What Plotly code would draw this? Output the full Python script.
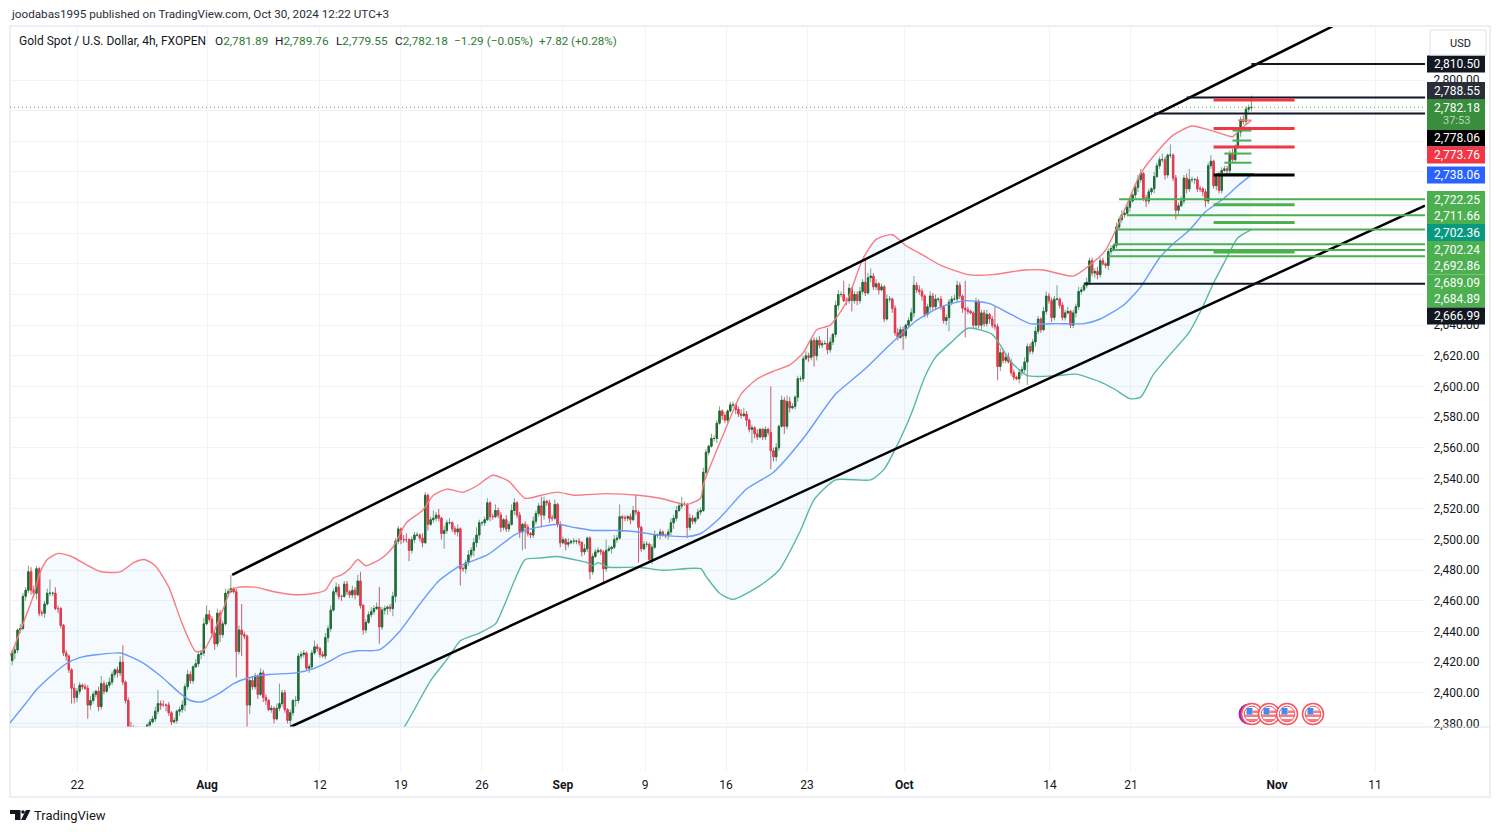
import plotly.graph_objects as go

closes = [
2426,2428,2441,2442,2463,2467,2479,2467,2465,2481,
2452,2452,2458,2465,2465,2465,2455,2455,2444,2426,
2424,2415,2403,2397,2401,2405,2404,2403,2392,2395,
2399,2401,2391,2406,2401,2405,2407,2412,2415,2413,
2420,2407,2395,2378,2372,2376,2372,2368,2372,2376,
2379,2381,2383,2388,2393,2392,2392,2392,2387,2381,
2382,2388,2389,2392,2404,2412,2408,2417,2419,2425,
2426,2445,2451,2448,2439,2432,2452,2438,2445,2465,
2466,2468,2466,2427,2441,2438,2437,2392,2408,2404,
2411,2399,2413,2397,2395,2389,2390,2383,2390,2393,
2400,2389,2382,2387,2395,2395,2424,2425,2426,2416,
2417,2426,2430,2429,2425,2424,2436,2442,2454,2466,
2469,2463,2463,2471,2466,2464,2467,2464,2473,2457,
2441,2446,2451,2453,2455,2456,2443,2454,2455,2456,
2455,2463,2499,2507,2500,2500,2500,2493,2500,2503,
2503,2501,2498,2529,2510,2513,2514,2516,2514,2504,
2506,2511,2511,2507,2505,2507,2481,2481,2485,2490,
2493,2498,2503,2511,2511,2513,2524,2515,2515,2519,
2516,2508,2513,2507,2510,2519,2524,2516,2505,2510,
2508,2504,2503,2512,2517,2522,2516,2525,2524,2514,
2514,2523,2510,2498,2500,2497,2498,2499,2499,2499,
2498,2492,2494,2501,2479,2489,2492,2493,2492,2481,
2493,2494,2495,2500,2501,2515,2514,2514,2515,2513,
2519,2518,2508,2494,2497,2497,2487,2495,2503,2503,
2505,2503,2503,2505,2511,2514,2519,2522,2523,2523,
2508,2514,2512,2514,2518,2519,2544,2557,2561,2566,
2566,2576,2584,2581,2578,2584,2588,2588,2585,2582,
2581,2582,2578,2572,2573,2569,2567,2572,2567,2572,
2570,2558,2554,2560,2574,2591,2574,2590,2586,2587,
2593,2605,2605,2618,2620,2619,2630,2620,2630,2627,
2628,2628,2624,2629,2634,2653,2660,2660,2656,2656,
2664,2656,2660,2656,2662,2668,2661,2671,2672,2665,
2667,2663,2665,2644,2657,2657,2651,2635,2632,2637,
2633,2640,2643,2648,2666,2663,2662,2659,2647,2652,
2659,2652,2657,2657,2652,2643,2645,2655,2657,2657,
2666,2659,2651,2650,2649,2648,2640,2655,2640,2648,
2641,2647,2644,2640,2639,2613,2622,2617,2619,2616,
2609,2606,2605,2609,2611,2616,2626,2623,2629,2636,
2644,2637,2649,2659,2656,2645,2657,2657,2653,2645,
2648,2649,2640,2648,2652,2662,2663,2666,2668,2682,
2674,2675,2673,2682,2680,2679,2688,2690,2692,2704,
2709,2712,2713,2717,2721,2725,2730,2735,2739,2723,
2721,2727,2729,2737,2744,2748,2748,2738,2751,2751,
2736,2715,2718,2721,2736,2729,2735,2735,2735,2729,
2729,2727,2721,2744,2747,2731,2737,2728,2741,2742,
2741,2752,2748,2756,2766,2774,2773,2781,2781.89,2782.18]

wick_up = [
2,3,1,3,2,2,4,3,3,2, 1,2,2,3,9,1,4,2,1,1, 2,1,1,3,2,2,1,2,2,3, 2,1,3,5,2,2,3,2,1,2,
4,11,1,2,3,3,2,1,3,2, 1,2,2,3,9,2,3,1,2,1, 2,1,2,3,2,3,2,1,3,2, 2,4,6,3,2,1,3,2,2,3,
2,9,1,2,3,17,2,1,2,3, 2,1,3,2,2,1,2,1,3,13, 2,2,1,2,1,3,2,2,2,1, 2,2,4,2,1,2,3,2,3,2,
3,2,1,2,2,1,3,2,4,6, 1,2,2,3,2,3,13,2,2,1, 2,3,2,2,1,3,4,1,2,2, 2,1,3,2,1,2,5,2,4,1,
3,2,3,1,2,3,1,2,2,3, 2,3,5,2,1,2,3,1,2,4, 2,2,1,3,2,4,3,1,2,1, 2,2,1,3,2,2,6,3,1,2,
2,3,1,2,2,1,3,1,2,1, 2,1,3,1,1,2,2,2,1,1, 7,2,1,3,2,8,1,2,1,2, 3,10,1,1,2,2,1,2,3,1,
2,1,1,2,3,2,3,2,5,2, 1,3,2,1,2,2,3,2,1,3, 2,2,3,1,2,1,2,2,1,2, 3,4,2,1,2,1,3,1,1,2,
1,30,2,3,1,3,2,4,3,2, 1,2,2,2,3,2,1,2,2,3, 2,2,10,3,1,3,3,2,9,2, 3,1,2,2,3,2,16,3,5,2,
3,1,2,1,3,2,1,2,3,2, 2,1,2,3,6,2,3,2,1,2, 3,2,3,1,2,1,2,2,2,3, 3,2,1,18,2,1,1,3,2,2,
2,3,1,2,12,2,3,2,2,3, 2,2,1,2,2,3,2,2,2,3, 2,1,3,3,2,2,2,9,1,2, 2,3,1,2,2,3,2,2,3,2,
2,2,3,2,2,1,2,2,1,3, 2,3,1,2,2,1,2,3,3,1, 2,2,1,3,2,2,4,2,1,7, 1,2,2,3,2,3,7,2,1,2,
2,1,2,2,4,1,2,3,2,2, 2,2,3,2,1,2,3,2,2,7.58]

wick_dn = [
3,4,2,2,1,3,2,3,2,4, 2,2,3,1,2,2,1,3,2,2, 3,2,10,4,3,2,2,1,9,3, 2,2,3,2,2,1,2,2,2,3,
2,2,2,3,1,2,2,2,1,1, 2,2,1,2,2,3,1,4,2,2, 1,2,3,2,4,2,2,2,1,2, 3,2,1,2,3,4,2,5,2,1,
2,1,1,17,2,14,2,17,6,2, 2,3,1,3,3,1,2,3,1,2, 2,2,2,3,2,4,2,2,2,1, 3,2,1,2,2,1,2,3,2,1,
2,2,3,1,2,2,2,3,1,2, 3,2,1,2,2,1,11,2,3,4, 2,5,4,2,3,2,2,7,2,2, 1,2,3,1,4,1,2,2,2,4,
10,2,1,2,2,3,11,2,3,2, 2,4,3,3,2,2,1,3,2,1, 2,3,2,2,2,1,3,2,4,12, 14,2,2,2,2,2,8,3,2,3,
2,1,2,3,1,4,2,1,2,2, 2,3,2,2,5,2,1,1,2,10, 2,1,3,1,2,1,9,2,2,3, 1,2,23,2,1,2,2,3,1,2,
3,1,2,3,2,4,2,1,2,1, 7,2,2,2,1,2,1,2,2,1, 2,3,1,3,2,2,1,2,3,2, 2,1,4,2,9,3,2,1,2,2,
2,12,3,3,2,1,5,2,3,1, 2,3,2,2,1,3,2,7,3,2, 2,1,3,2,2,2,3,2,1,3, 2,7,2,3,2,2,2,1,3,2,
2,3,1,2,1,2,3,2,2,1, 9,2,2,1,3,2,2,3,2,2, 3,2,2,2,2,2,3,9,2,1, 2,2,3,18,2,1,2,2,2,3,
2,2,3,2,2,9,3,2,2,1, 2,2,1,3,2,2,15,2,2,3, 2,2,1,2,2,3,2,1,2,2, 2,1,2,2,3,2,2,1,2,2,
2,3,3,2,1,2,3,2,2,2, 1,2,2,2,3,1,2,3,2,2, 4,2,2,3,1,2,2,3,2,2, 2,6,3,1,2,3,2,2,3,2,
2,3,4,2,2,2,3,2,2,1, 2,3,2,2,1,3,2,2,2,2.34]

first_open = 2421

upper_bars = [-1,0,4,8,10,13,17,22,28,33,40,45,49,53,58,63,68,71,75,78,81,84,90,97,105,112,116,119,122,125,128,131,137,141,146,152,156,161,167,172,178,184,190,196,202,208,220,232,240,250,255,256,263,270,276,282,288,293,298,303,309,315,320,326,331,338,344,354,363,375,382,393,399,405,411,418,425,430,437,446,452,455,459]
upper_vals = [2424,2427,2445,2464,2477,2487,2491,2489,2483,2479,2479,2485,2487,2483,2469,2445,2427,2428,2441,2454,2467,2469,2469,2466,2464,2465,2467,2475,2477,2481,2487,2483,2488,2495,2511,2519,2529,2533,2531,2535,2542,2538,2527,2529,2531,2529,2530,2529,2527,2523,2527,2536,2567,2595,2605,2610,2614,2622,2637,2640,2655,2683,2696,2699,2692,2685,2679,2673,2673,2676,2676,2672,2679,2689,2711,2739,2755,2764,2770,2766,2763,2768,2773.76]
mid_bars = [-1,5,9,15,20,25,32,40,47,55,62,66,70,77,82,88,95,105,112,118,122,128,136,143,151,158,166,176,186,192,202,208,215,224,232,239,250,255,262,272,282,293,305,315,325,335,344,353,362,370,377,387,397,403,411.6,418,425,430,436,442,449,454,459]
mid_vals = [2380,2393,2402,2412,2419,2423,2425,2426,2421,2411,2400,2395,2394,2400,2406,2410,2412,2413,2416,2421,2425,2427.5,2428,2439,2458,2473,2483,2490,2503,2507,2510,2508,2506,2506,2505,2503,2502,2504,2514,2533,2544,2566,2595,2610,2627,2643,2652,2656,2654,2647,2641,2641,2641,2644,2653,2665,2684,2693,2702,2714,2723,2731,2738.06]
lower_bars = [-1,60,120,145,155,162,166,173,179,182,186,190,196,202,208,213,215,217,221,232,241,255,257,262,267,277,284,292,297,305,318,323,329,333,338,342,348,354,363,370,376,387,394,403,408.5,414,418,422.6,428,436,440.7,445,449,454,459]
lower_vals = [2330,2300,2320,2377,2408,2424,2434,2439,2445,2456,2473,2487,2488,2489,2487,2485,2483,2485,2482,2482,2480,2481,2476,2465,2461,2470,2480,2506,2526,2539,2539,2546,2566,2582,2606,2619,2629,2638,2634,2616,2607,2607,2608,2603,2598,2592,2593,2607.5,2619,2635.5,2651,2667.5,2681,2697,2702.36]
upper_tail_bars = [459,454]
upper_tail_vals = [2773.76,2773.76]

price_ticks = [2380,2400,2420,2440,2460,2480,2500,2520,2540,2560,2580,2600,2620,2640,2660,2680,2700,2720,2740,2760,2780,2800]
hidden_price_ticks = [2660,2680,2700,2720,2740,2760,2780]
date_ticks = [24.07,72.2,114,144,174,204,234.4,264.4,294.4,330.4,384.4,414.4,468.5,504.8]
date_labels = ["22","<b>Aug</b>","12","19","26","<b>Sep</b>","9","16","23","<b>Oct</b>","14","21","<b>Nov</b>","11"]

channel_up_bars = [81.5,489]; channel_up_vals = [2477,2835]
channel_dn_bars = [103,523.3]; channel_dn_vals = [2377.7,2718]
black_levels = [(2810.50,459,523.3),(2788.55,435,523.3),(2778.06,423,523.3),(2666.99,397,523.3)]
thick_black_levels = [(2738.06,445,475)]
red_levels = [(2787,445,475),(2768.4,445,475),(2756.3,445,475)]
green_full_levels = [(2722.25,410,523.3),(2711.66,413,523.3),(2702.36,409,523.3),(2692.86,408,523.3),(2689.09,407,523.3),(2684.89,406,523.3)]
green_short_levels = [(2718.5,445,475),(2707,445,475),(2687.7,445,475)]
green_tiny_levels = [(2767,452,459),(2760.5,452,459),(2752,449,459),(2746,449,459),(2738.7,446,460)]
last_price = 2782.18

price_tags = [
 ("2,810.50",64,"#131722","#ffffff"),("2,788.55",90.5,"#2a2e39","#ffffff"),
 ("2,778.06",138,"#000000","#ffffff"),("2,773.76",155,"#f23645","#ffffff"),
 ("2,738.06",175,"#2962ff","#ffffff"),("2,722.25",199.5,"#4caf50","#ffffff"),
 ("2,711.66",216,"#4caf50","#ffffff"),("2,702.36",232.5,"#089981","#ffffff"),
 ("2,702.24",249.5,"#4caf50","#ffffff"),("2,692.86",266,"#4caf50","#ffffff"),
 ("2,689.09",283,"#4caf50","#ffffff"),("2,684.89",299,"#4caf50","#ffffff"),
 ("2,666.99",316,"#131722","#ffffff")]
flag_centers = [1252,1269,1287,1313]

opens = [first_open] + closes[:-1]
highs = [max(o,c)+u for o,c,u in zip(opens,closes,wick_up)]
lows = [min(o,c)-d for o,c,d in zip(opens,closes,wick_dn)]
body_hi = [max(o,c) for o,c in zip(opens,closes)]
body_lo = [min(o,c) for o,c in zip(opens,closes)]
bars = list(range(len(closes)))

L,R,T,B = 10,1425,27,727
def X(p): return (p-L)/(R-L)
def Y(p): return (B-p)/(B-T)
FONT = "Roboto"
GRID = "#f0f3fa"

fig = go.Figure()
def hlines(levels,color,width):
    for v,a,b in levels:
        fig.add_trace(go.Scatter(x=[a,b],y=[v,v],mode="lines",line=dict(color=color,width=width),hoverinfo="skip"))
# Bollinger bands
fig.add_trace(go.Scatter(x=lower_bars,y=lower_vals,mode="lines",line=dict(color="#58b8a3",width=1.4,shape="spline",smoothing=0.6),hoverinfo="skip"))
fig.add_trace(go.Scatter(x=upper_bars,y=upper_vals,mode="lines",line=dict(color="#f77c80",width=1.4,shape="spline",smoothing=0.6),fill="tonexty",fillcolor="rgba(33,150,243,0.05)",hoverinfo="skip"))
fig.add_trace(go.Scatter(x=upper_tail_bars,y=upper_tail_vals,mode="lines",line=dict(color="#f77c80",width=1.4),hoverinfo="skip"))
fig.add_trace(go.Scatter(x=mid_bars,y=mid_vals,mode="lines",line=dict(color="#6a9cf8",width=1.4,shape="spline",smoothing=0.6),hoverinfo="skip"))
hlines(green_tiny_levels,"#4caf50",2)
fig.add_trace(go.Scatter(x=[-0.8,523.3],y=[last_price,last_price],mode="lines",line=dict(color="#66a86b",width=1,dash="1px,3px"),hoverinfo="skip"))
# Candles: wicks then solid bodies
fig.add_trace(go.Candlestick(x=bars,open=opens,high=highs,low=lows,close=closes,whiskerwidth=0,
    increasing=dict(line=dict(color="#7fa386",width=1),fillcolor="#7fa386"),
    decreasing=dict(line=dict(color="#c9606f",width=1),fillcolor="#c9606f")))
fig.add_trace(go.Candlestick(x=bars,open=opens,high=body_hi,low=body_lo,close=closes,whiskerwidth=0,
    increasing=dict(line=dict(color="#1f6b2d",width=1),fillcolor="#1f6b2d"),
    decreasing=dict(line=dict(color="#f23645",width=1),fillcolor="#f23645")))
# Channel
for xs,ys in ((channel_up_bars,channel_up_vals),(channel_dn_bars,channel_dn_vals)):
    fig.add_trace(go.Scatter(x=xs,y=ys,mode="lines",line=dict(color="#000000",width=2.5),hoverinfo="skip"))
hlines(black_levels,"#131722",2)
hlines(thick_black_levels,"#000000",3)
hlines(red_levels,"#f23645",3)
hlines(green_full_levels,"#4caf50",2)
hlines(green_short_levels,"#4caf50",3)

ann=[]
def txt(px,py,s,size=12,color="#131722",anchor="left",family=FONT):
    ann.append(dict(x=X(px),y=Y(py),xref="paper",yref="paper",text=s,showarrow=False,xanchor=anchor,yanchor="middle",font=dict(family=family,size=size,color=color),borderpad=0))
txt(10,14,"joodabas1995 published on TradingView.com, Oct 30, 2024 12:22 UTC+3",11.7,"#2a2e39")
txt(18,41,"Gold Spot / U.S. Dollar, 4h, FXOPEN",12,"#131722")
G="#2e7d32"
for px,a,b in [(214,"O","2,781.89"),(274,"H","2,789.76"),(335,"L","2,779.55"),(394,"C","2,782.18")]:
    txt(px,41,f'{a}<span style="color:{G}">{b}</span>',11.8,"#131722")
txt(453,41,"−1.29 (−0.05%)",11.8,G)
txt(538,41,"+7.82 (+0.28%)",11.6,G)
txt(1449,43.5,"USD",11,"#131722")
txt(32.5,815,"TradingView",13,"#131722")
shapes=[]
def rect(x0,y0,x1,y1,fill,line=None,lw=0,layer="above"):
    shapes.append(dict(type="rect",xref="paper",yref="paper",x0=X(x0),x1=X(x1),y0=Y(y0),y1=Y(y1),fillcolor=fill,line=dict(color=line or fill,width=lw),layer=layer))
def circ(cx,cy,r,fill,line=None,lw=0):
    shapes.append(dict(type="circle",xref="paper",yref="paper",x0=X(cx-r),x1=X(cx+r),y0=Y(cy+r),y1=Y(cy-r),fillcolor=fill,line=dict(color=line or fill,width=lw),layer="above"))
for s,py,bg,fg in price_tags:
    rect(1427,py-8.5,1485,py+8.5,bg)
rect(1427,99,1485,130,"#388e3c")
for s,py,bg,fg in price_tags:
    txt(1456.5,py,s,12,fg,"center")
txt(1456.5,107.5,"2,782.18",12,"#ffffff","center")
txt(1456.5,121,"37:53",11,"#b7d8b9","center")
shapes.append(dict(type="rect",xref="paper",yref="paper",x0=X(1430),x1=X(1486),y0=Y(55),y1=Y(30),fillcolor="#ffffff",line=dict(color="#e0e3eb",width=1),layer="above"))
shapes.append(dict(type="rect",xref="paper",yref="paper",x0=X(10),x1=X(1490),y0=Y(797),y1=Y(26),fillcolor="rgba(0,0,0,0)",line=dict(color="#e8eaf2",width=1.5),layer="below"))
shapes.append(dict(type="line",xref="paper",yref="paper",x0=X(10),x1=X(1490),y0=Y(727),y1=Y(727),line=dict(color="#e0e3eb",width=1),layer="above"))
circ(flag_centers[0]-3,714,10.5,"#9c27b0")
for c in flag_centers:
    circ(c,714,10.5,"#ffffff","#f7525f",1.5)
    circ(c,714,7.8,"#ffffff","#f7525f",1)
    rect(c-7,714.5,c+7,717,"#f77c80")
    rect(c-5.5,719,c+5.5,721,"#f77c80")
    rect(c-5.5,708,c+0.5,714.5,"#3d8ef0")
    rect(c+0.5,710.5,c+7,713,"#f77c80")
shapes.append(dict(type="path",xref="paper",yref="paper",path=f"M {X(10)} {Y(810)} L {X(20.5)} {Y(810)} L {X(20.5)} {Y(820)} L {X(15)} {Y(820)} L {X(15)} {Y(814)} L {X(10)} {Y(814)} Z",fillcolor="#131722",line=dict(width=0),layer="above"))
circ(23,812,1.8,"#131722")
shapes.append(dict(type="path",xref="paper",yref="paper",path=f"M {X(26)} {Y(810)} L {X(30.5)} {Y(810)} L {X(25.5)} {Y(820)} L {X(21)} {Y(820)} Z",fillcolor="#131722",line=dict(width=0),layer="above"))

fig.update_layout(width=1500,height=832,autosize=False,margin=dict(l=L,r=1500-R,t=T,b=832-B),
    paper_bgcolor="#ffffff",plot_bgcolor="#ffffff",showlegend=False,annotations=ann,shapes=shapes,
    font=dict(family=FONT,size=12,color="#131722"),
    xaxis=dict(range=[-0.8,523.3],rangeslider=dict(visible=False),tickmode="array",tickvals=date_ticks,ticktext=date_labels,
        showgrid=True,gridcolor=GRID,gridwidth=1,zeroline=False,showline=False,ticks="outside",ticklen=43,tickcolor=GRID,tickwidth=1,ticklabelstandoff=4,
        tickfont=dict(family=FONT,size=12,color="#131722")),
    yaxis=dict(range=[2377.7,2834.6],side="right",tickmode="array",tickvals=price_ticks,
        ticktext=["" if t in hidden_price_ticks else f"{t:,.2f}" for t in price_ticks],
        showgrid=True,gridcolor=GRID,gridwidth=1,zeroline=False,showline=False,ticks="outside",ticklen=5,tickcolor="rgba(0,0,0,0)",
        tickfont=dict(family=FONT,size=12,color="#131722")))
fig.write_html("out.html",config=dict(displayModeBar=False),post_script="document.body.style.margin='0';document.documentElement.style.overflow='hidden';")
